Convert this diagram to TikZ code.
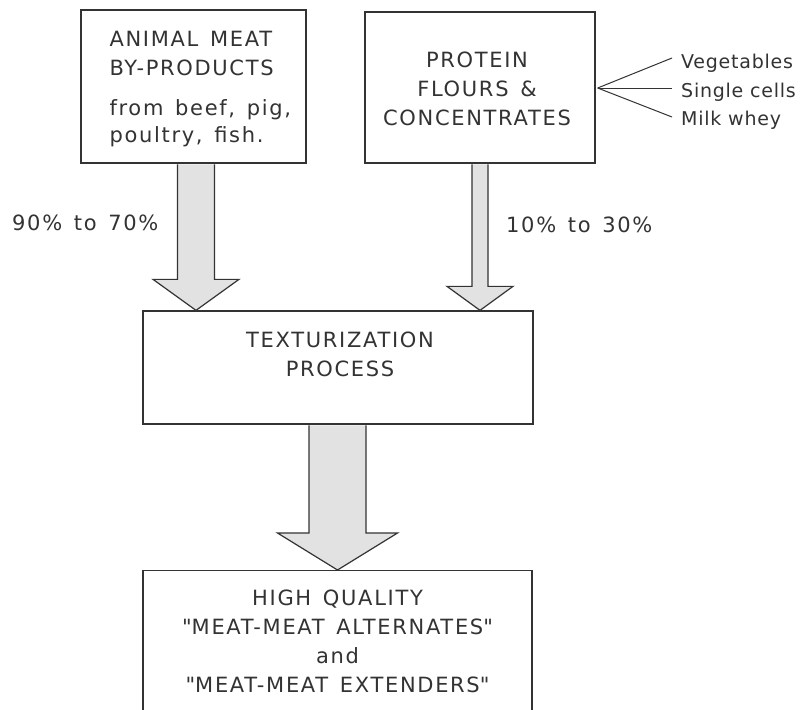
\documentclass[tikz,border=0pt]{standalone}
\usepackage{fontspec}
\setmainfont{DejaVu Sans}[LetterSpace=4]
\newfontfamily\widefont{DejaVu Sans}[LetterSpace=8,WordSpace=1.4]
\usetikzlibrary{calc}
\definecolor{ink}{HTML}{333333}
\definecolor{shade}{HTML}{E2E2E2}
\newcommand\fatarrow[5]{%
  \draw[fat] let \p1=(#1), \p2=(#2) in
    ({\x2-#3pt},{\y1-0.7pt}) -- ({\x2-#3pt},{\y2+#5pt}) -- ({\x2-#4pt},{\y2+#5pt})
    -- (\p2) -- ({\x2+#4pt},{\y2+#5pt}) -- ({\x2+#3pt},{\y2+#5pt}) -- ({\x2+#3pt},{\y1-0.7pt});}
\begin{document}
\begin{tikzpicture}[x=1pt,y=-1pt,
  box/.style={draw=ink, line width=1.3pt, rectangle, inner sep=0pt},
  txt/.style={text=ink, font=\widefont\fontsize{21}{29}\selectfont, inner sep=0pt},
  small/.style={text=ink, font=\fontsize{19}{28}\selectfont, anchor=base west, inner sep=0pt},
  fat/.style={draw=ink, line width=1.2pt, fill=shade, line join=miter},
  fan/.style={draw=ink, line width=1pt}]
\useasboundingbox (0,0) rectangle (804,710);
\fill[white] (0,0) rectangle (804,710);
\clip (0,0) rectangle (804,710);

% boxes
\node[box, minimum width=225pt, minimum height=153pt] (animal) at (193.5,86.5) {};
\node[txt, align=left, anchor=north west] (animallbl) at ($(animal.north west)+(29,22)$)
  {ANIMAL MEAT\\BY-PRODUCTS\\[11pt]from beef, pig,\\[-2pt]poultry, fish.};

\node[box, minimum width=230pt, minimum height=151pt] (protein) at (480,87.5) {};
\node[txt, align=center, anchor=north] (proteinlbl) at ($(protein.north)+(-3,40)$)
  {PROTEIN\\FLOURS \&\\CONCENTRATES};

\node[box, minimum width=390pt, minimum height=113pt] (tex) at (338,367.5) {};
\node[txt, align=center, anchor=north] (texlbl) at ($(tex.north)+(2,21)$)
  {TEXTURIZATION\\PROCESS};

\node[box, minimum width=389pt, minimum height=170pt, anchor=north] (result) at (337.5,570) {};
\node[txt, align=center, anchor=north] (resultlbl) at ($(result.north)+(0,20)$)
  {HIGH QUALITY\\\textquotedbl MEAT-MEAT ALTERNATES\textquotedbl\\and\\\textquotedbl MEAT-MEAT EXTENDERS\textquotedbl};

% sources of protein
\node[small] (veg) at (681,68) {Vegetables};
\node[small] (cells) at (681,97) {Single cells};
\node[small] (whey) at (681,125) {Milk whey};
\coordinate (fanO) at ($(protein.east)+(2,0.5)$);
\draw[fan] (fanO) -- ($(veg.base west)+(-9,-10)$);
\draw[fan] (fanO) -- ($(cells.base west)+(-9,-9)$);
\draw[fan] (fanO) -- ($(whey.base west)+(-9,-8)$);

% percentages
\node[txt, anchor=base west] (p1) at (12,230) {90\% to 70\%};
\node[txt, anchor=base west] (p2) at (506,232) {10\% to 30\%};

% fat arrows
\coordinate (a1) at (196,0);
\fatarrow{animal.south -| a1}{tex.north -| a1}{18.5}{43}{31}
\fatarrow{protein.south}{tex.north -| protein.south}{8}{33}{24}
\fatarrow{tex.south}{result.north}{28.5}{60}{37}
\end{tikzpicture}
\end{document}
